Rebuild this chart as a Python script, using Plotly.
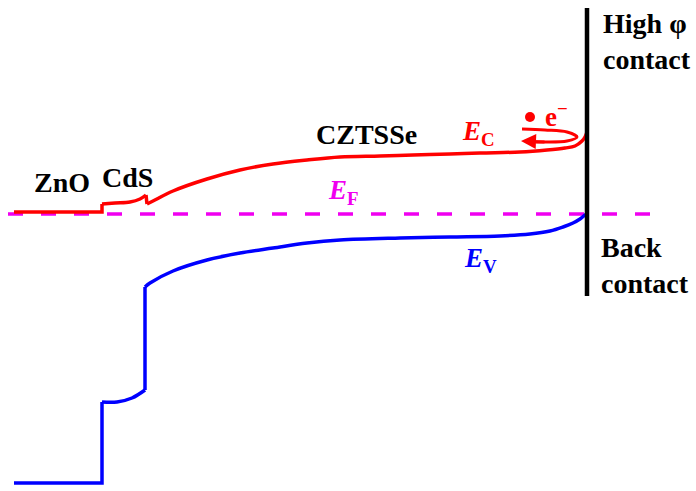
import plotly.graph_objects as go

# Band diagram of a ZnO / CdS / CZTSSe cell with a high work-function back contact.
# Position along the device (arbitrary units) and energy relative to the Fermi level (arbitrary units).

# Conduction band edge, split into straight steps and smooth bends
ec_zno_x = [14, 102, 102]
ec_zno_e = [2, 2, 10]
ec_cds_x = [102, 115, 130, 140, 146]
ec_cds_e = [10, 11, 12, 15, 19]
ec_spike_x = [146, 147]
ec_spike_e = [19, 10]
ec_abs_x = [147, 153, 173, 207, 240, 273, 307, 340, 380, 413, 450, 480, 520, 547, 565, 575, 582, 585, 587]
ec_abs_e = [10, 13, 23, 35, 44, 50, 54, 57, 58, 59, 60, 61, 62, 64, 66, 68, 73, 77, 82]

# Valence band edge
ev_zno_x = [14, 102, 102]
ev_zno_e = [-269, -269, -188]
ev_cds_x = [102, 117, 132, 145]
ev_cds_e = [-188, -188, -184, -176]
ev_step_x = [145, 145]
ev_step_e = [-176, -73]
ev_abs_x = [145, 150, 173, 207, 240, 273, 307, 340, 400, 450, 500, 530, 550, 563, 573, 580, 585, 587]
ev_abs_e = [-73, -69, -57, -46, -39, -34, -29, -26, -24, -23, -22, -20, -17, -13, -9, -5, -1, 0]

# Fermi level
ef_x = [8, 655]
ef_e = [0, 0]

# Back contact
contact_x = [587, 587]
contact_e = [206, -82]

# Electron reflected at the barrier
loop_x = [522, 545, 567, 577, 567, 545, 536]
loop_e = [85, 84, 82, 77, 73, 72, 72]
arrow_tail = (546, 72)
arrow_head = (521, 73)
electron_x = [530]
electron_e = [97]

RED = "#FF0000"
BLUE = "#0000FF"
MAGENTA = "#F000F0"
SERIF = "Liberation Serif, Times New Roman, serif"

fig = go.Figure()


def add_line(x, e, color, shape="linear", width=3.5, dash=None):
    fig.add_trace(go.Scatter(
        x=x, y=e, mode="lines",
        line=dict(color=color, width=width, shape=shape, dash=dash),
        hoverinfo="skip", showlegend=False,
    ))


add_line(ef_x, ef_e, MAGENTA, dash="15px,18px", width=3.6)
add_line(ev_zno_x, ev_zno_e, BLUE)
add_line(ev_cds_x, ev_cds_e, BLUE, shape="spline")
add_line(ev_step_x, ev_step_e, BLUE)
add_line(ev_abs_x, ev_abs_e, BLUE, shape="spline")
add_line(ec_zno_x, ec_zno_e, RED)
add_line(ec_cds_x, ec_cds_e, RED, shape="spline")
add_line(ec_spike_x, ec_spike_e, RED)
add_line(ec_abs_x, ec_abs_e, RED, shape="spline")
add_line(loop_x, loop_e, RED, shape="spline", width=3)
add_line(contact_x, contact_e, "black", width=4.5)

fig.add_trace(go.Scatter(
    x=electron_x, y=electron_e, mode="markers",
    marker=dict(color=RED, size=10),
    hoverinfo="skip", showlegend=False,
))

fig.add_annotation(
    x=arrow_head[0], y=arrow_head[1], ax=arrow_tail[0], ay=arrow_tail[1],
    xref="x", yref="y", axref="x", ayref="y",
    showarrow=True, arrowhead=2, arrowsize=1.0, arrowwidth=3, arrowcolor=RED, text="",
)


def label(x, e, text, color="black", xanchor="center", align="center", size=28):
    fig.add_annotation(
        x=x, y=e, xref="x", yref="y", text=text, showarrow=False,
        xanchor=xanchor, yanchor="middle", align=align,
        font=dict(family=SERIF, size=size, color=color),
    )


label(62, 32, "<b>ZnO</b>")
label(127, 37, "<b>CdS</b>")
label(366, 80, "<b>CZTSSe</b>")
label(460, 81, "<i><b>E</b></i><sub><b>C</b></sub>", RED, xanchor="left", size=27)
label(326, 22, "<i><b>E</b></i><sub><b>F</b></sub>", MAGENTA, xanchor="left", size=27)
label(462, -46, "<i><b>E</b></i><sub><b>V</b></sub>", BLUE, xanchor="left", size=27)
label(543, 99, "<b>e<sup>−</sup></b>", RED, xanchor="left", size=27)
label(601, 173, "<b>High φ<br>contact</b>", xanchor="left", align="left")
label(599, -51, "<b>Back<br>contact</b>", xanchor="left", align="left")

fig.update_layout(
    width=696, height=491,
    margin=dict(l=0, r=0, t=0, b=0),
    paper_bgcolor="white", plot_bgcolor="white",
    xaxis=dict(range=[0, 696], visible=False, fixedrange=True),
    yaxis=dict(range=[-277, 214], visible=False, fixedrange=True),
)

fig.write_html("out.html")
